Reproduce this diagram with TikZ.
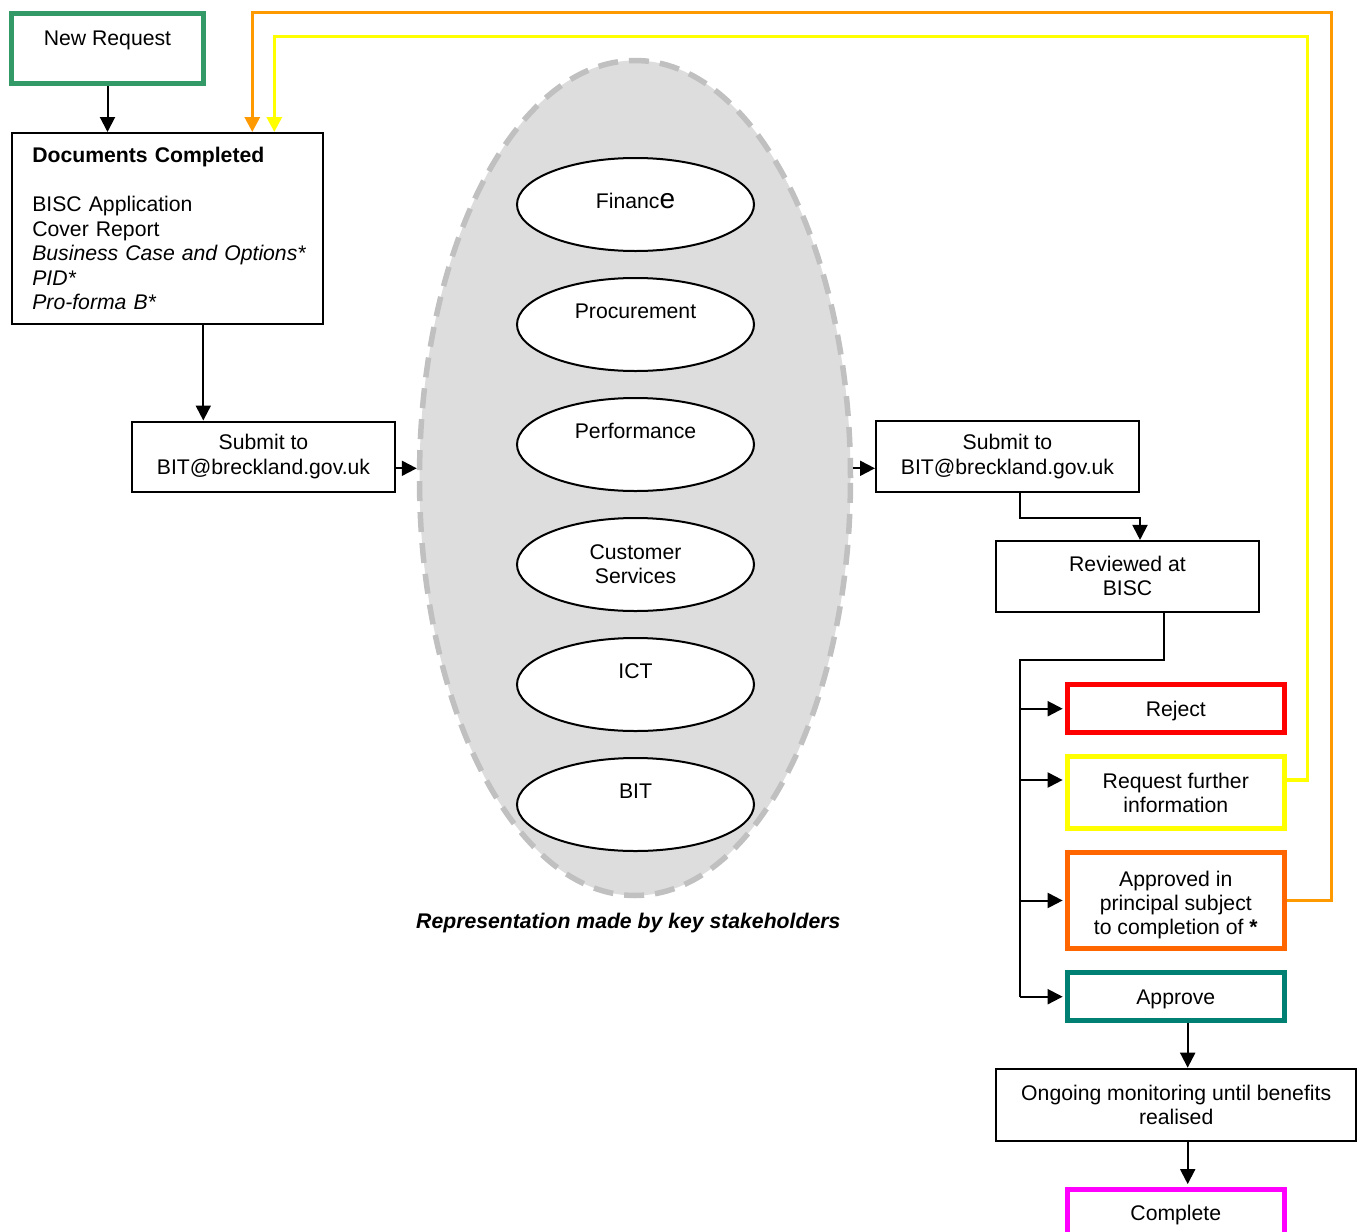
\documentclass[tikz,border=0pt]{standalone}
\usepackage{fontspec}
\setmainfont{Liberation Sans}
\usetikzlibrary{arrows.meta,shapes.geometric}
\definecolor{nrgreen}{RGB}{51,153,102}
\definecolor{eggfill}{RGB}{221,221,221}
\definecolor{eggline}{RGB}{192,192,192}
\definecolor{rejred}{RGB}{255,0,0}
\definecolor{reqyel}{RGB}{255,255,0}
\definecolor{appor}{RGB}{255,102,0}
\definecolor{apteal}{RGB}{0,128,115}
\definecolor{compmag}{RGB}{255,0,255}
\definecolor{fbyel}{RGB}{255,255,0}
\definecolor{fborg}{RGB}{255,153,0}
\newcommand\dfont{\fontsize{10.6}{12.1}\selectfont}
\newcommand\docfont{\fontsize{10.6}{12.25}\selectfont}
\begin{document}
\begin{tikzpicture}[x=0.5pt,y=-0.5pt,
  every node/.style={font=\dfont},
  box/.style={draw, rectangle, line width=1pt, inner sep=0pt, align=center},
  cbox/.style={box, line width=2.5pt},
  arr/.style={line width=1pt, -{Triangle[length=7.5pt,width=7.5pt]}},
  carr/.style={arr, shorten >=1.2pt},
  fb/.style={line width=1.6pt, -{Triangle[length=7.5pt,width=7.5pt]}},
  ell/.style={ellipse, draw, fill=white, line width=1pt, minimum width=118.5pt, minimum height=46.5pt, inner sep=1pt, align=center},
  one/.style={text height=8pt, text depth=14.5pt},
  single/.style={text height=9pt, text depth=1pt}
]
\useasboundingbox (0,0) rectangle (1361,1232);
\fill[white] (0,0) rectangle (1361,1232);

% left column
\node[cbox, draw=nrgreen, minimum width=96pt, minimum height=35pt, text height=15.75pt, text depth=19.25pt] (nr) at (107.5,48.5) {New Request};
\node[box, font=\docfont, align=left, text width=135.2pt, inner xsep=10.15pt, minimum width=155.5pt, minimum height=95.5pt] (docs) at (167.5,228.5)
  {\mbox{\textbf{Documents Completed}}\\[12.25pt]\mbox{BISC Application}\\\mbox{Cover Report}\\\mbox{\textit{Business Case and Options*}}\\\mbox{\textit{PID*}}\\\mbox{\textit{Pro-forma B*}}};
\node[box, minimum width=131.5pt, minimum height=35pt] (sub1) at (263.5,456.5) {Submit to\\BIT@breckland.gov.uk};

% stakeholders
\node[ellipse, draw=eggline, fill=eggfill, line width=2.75pt, dash pattern=on 10pt off 5.5pt, minimum width=215.5pt, minimum height=417.5pt] (egg) at (635,478) {};
\node[ell, text height=8pt, text depth=4.5pt] (fin) at (635.5,204.5) {Financ{\fontsize{14}{14}\selectfont e}};
\node[ell, one] (proc) at (635.5,324.5) {Procurement};
\node[ell, one] (perf) at (635.5,444.5) {Performance};
\node[ell] (cust) at (635.5,564.5) {Customer\\Services};
\node[ell, one] (ict) at (635.5,684.5) {ICT};
\node[ell, one] (bit) at (635.5,804.5) {BIT};
\node[anchor=base, font=\dfont\bfseries\itshape] (cap) at (628.3,928.3) {Representation made by key stakeholders};

% right column
\node[box, minimum width=131.5pt, minimum height=35.5pt] (sub2) at (1007.5,456.5) {Submit to\\BIT@breckland.gov.uk};
\node[box, minimum width=131.5pt, minimum height=35.35pt] (rev) at (1127.5,576.3) {Reviewed at\\BISC};
\node[cbox, draw=rejred, minimum width=108.25pt, minimum height=24pt, single] (rej) at (1175.8,708.7) {Reject};
\node[cbox, draw=reqyel, minimum width=108.25pt, minimum height=35.85pt] (req) at (1175.8,792.7) {Request further\\information};
\node[cbox, draw=appor, minimum width=108.25pt, minimum height=48pt] (apr) at (1175.8,900.5) {\rule{0pt}{12pt}Approved in\\principal subject\\to completion of \textbf{*}};
\node[cbox, draw=apteal, minimum width=108.25pt, minimum height=24.25pt, single] (apv) at (1175.8,996.7) {Approve};
\node[box, minimum width=180.15pt, minimum height=36pt] (ong) at (1176.2,1104.7) {Ongoing monitoring until benefits\\realised};
\node[cbox, draw=compmag, minimum width=108.25pt, minimum height=35.5pt, text height=15.5pt, text depth=20pt] (cmp) at (1175.8,1224.5) {Complete};

% connectors
\draw[arr] (nr.south) -- (nr.south |- docs.north);
\coordinate (dA) at ([xshift=17.9pt]docs.south);
\draw[arr] (dA) -- (dA |- sub1.north);
\coordinate (s1o) at ([yshift=-5.9pt]sub1.east);
\draw[arr] (s1o) -- (s1o -| egg.west);
\coordinate (s2i) at ([yshift=-5.9pt]sub2.west);
\draw[arr] (s2i -| egg.east) -- (s2i);
\coordinate (s2o) at ([xshift=6.25pt]sub2.south);
\coordinate (revin) at ([xshift=6.25pt]rev.north);
\draw[arr] (s2o) -- ++(0,24.7) -| (revin);
\coordinate (rvo) at ([xshift=18.25pt]rev.south);
\coordinate (busT) at (1020,660);
\coordinate (busB) at (1020,996.7);
\draw[line width=1pt] (rvo) |- (busT) -- (busB);
\draw[carr] (busB) -- (apv.west);
\draw[carr] (busT |- rej.west) -- (rej.west);
\coordinate (reqL) at ([yshift=6.35pt]req.west);
\draw[carr] (busT |- reqL) -- (reqL);
\draw[carr] (busT |- apr.west) -- (apr.west);
\coordinate (apvS) at ([xshift=5.95pt]apv.south);
\draw[arr] (apvS) -- (apvS |- ong.north);
\coordinate (ongS) at ([xshift=5.75pt]ong.south);
\draw[carr] (ongS) -- (ongS |- cmp.north);

% feedback loops
\coordinate (reqR) at ([yshift=6.35pt]req.east);
\coordinate (docY) at ([xshift=53.4pt]docs.north);
\draw[fb, draw=fbyel] (reqR) -| (1307.3,36.7) -| (docY);
\coordinate (docO) at ([xshift=42.4pt]docs.north);
\draw[fb, draw=fborg] (apr.east) -| (1331.7,12.7) -| (docO);
\end{tikzpicture}
\end{document}
